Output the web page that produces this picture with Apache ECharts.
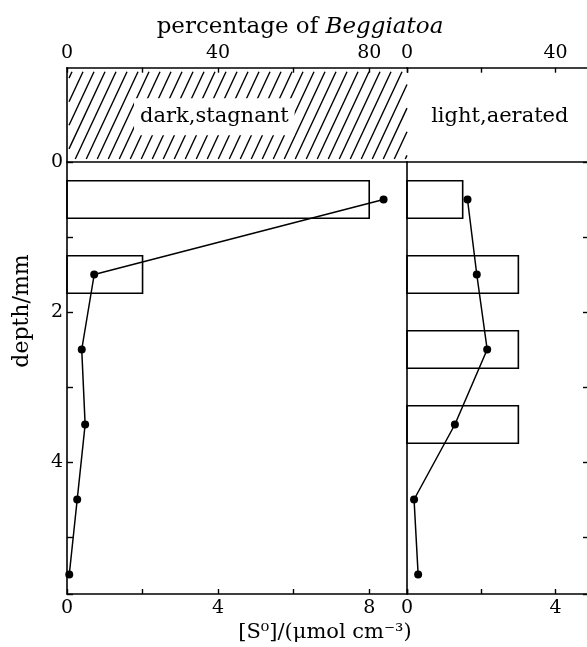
<!DOCTYPE html>
<html><head><meta charset="utf-8">
<script src="https://cdn.jsdelivr.net/npm/echarts@6/dist/echarts.min.js"></script>
<style>html,body{margin:0;padding:0;background:#fff}#c{width:587px;height:647px}</style>
</head><body><div id="c"></div>
<script>
// ---- data ----
var depthPoints = [0.5, 1.5, 2.5, 3.5, 4.5, 5.5];            // mm
var s0Dark  = [8.38, 0.72, 0.39, 0.48, 0.27, 0.06];          // umol cm-3
var s0Light = [1.63, 1.88, 2.16, 1.29, 0.19, 0.30];
var barTop    = [0.25, 1.25, 2.25, 3.25];                    // mm
var barBottom = [0.75, 1.75, 2.75, 3.75];
var pctDark  = [80, 20, 0, 0];                               // % Beggiatoa
var pctLight = [15, 30, 30, 30];
var regionLabels = ['dark,stagnant', 'light,aerated'];
var pctTickLabels = [0, 40, 80];
var s0TickLabels = [0, 4, 8];
var depthTickLabels = [0, 2, 4];

var FONT = 'DejaVu Serif';
var chart = echarts.init(document.getElementById('c'), null, {renderer: 'canvas'});

function pairs(xs, ys) { return xs.map(function (x, i) { return [x, ys[i]]; }); }
function barData(p) { return p.map(function (v, i) { return [barTop[i], barBottom[i], v]; }).filter(function (d) { return d[2] > 0; }); }

function renderBar(params, api) {
  var p0 = api.coord([0, api.value(0)]);
  var p1 = api.coord([api.value(2), api.value(1)]);
  return {type: 'rect', shape: {x: p0[0], y: p0[1], width: p1[0] - p0[0], height: p1[1] - p0[1]},
    style: {fill: 'none', stroke: '#000', lineWidth: 1.6}};
}

function renderHatch(params, api) {
  var a = api.coord([api.value(0), api.value(2)]);
  var b = api.coord([api.value(1), api.value(3)]);
  var L = a[0] + 2, R = b[0], T = a[1] + 4, B = b[1] - 3;
  var H = B - T, k = 1 / Math.tan(65 * Math.PI / 180), s = 11;
  var children = [];
  for (var c = L - H * k + 3; c < R; c += s) {
    var x0 = c, y0 = B, x1 = c + H * k, y1 = T;
    if (x0 < L) { y0 = B - (L - c) / k; x0 = L; }
    if (x1 > R) { y1 = B - (R - c) / k; x1 = R; }
    if (y0 - y1 < 1) continue;
    children.push({type: 'line', shape: {x1: x0, y1: y0, x2: x1, y2: y1}, style: {stroke: '#000', lineWidth: 1.4}});
  }
  var m = api.coord([api.value(4), api.value(5)]);
  children.push({type: 'text', x: m[0], y: m[1], style: {text: regionLabels[0], font: '21px "' + FONT + '"', fill: '#000',
    align: 'center', verticalAlign: 'middle', backgroundColor: '#fff', padding: [8, 6]}});
  return {type: 'group', children: children};
}
function renderLabel(params, api) {
  var m = api.coord([api.value(0), api.value(1)]);
  return {type: 'text', x: m[0], y: m[1], style: {text: regionLabels[1], font: '21px "' + FONT + '"', fill: '#000',
    align: 'center', verticalAlign: 'middle'}};
}

var axLine = {show: true, onZero: false, lineStyle: {color: '#000', width: 1.6}};
var noLine = {show: false, onZero: false};
var tickIn = {show: true, inside: true, length: 5, lineStyle: {color: '#000', width: 1.4}};
function lbl(list, margin) {
  return {show: true, margin: margin, color: '#000', fontFamily: FONT, fontSize: 19,
    formatter: function (v) { return list.indexOf(v) >= 0 ? String(v) : ''; }};
}

var top0 = 67.7, depth0 = 162, bot = 594;
var leftX = 67, divX = 407, rightEnd = 590;

function gridAt(l, t, w, h) {
  return {left: l, top: t, width: w, height: h, containLabel: false, outerBoundsMode: 'none'};
}

var option = {
  animation: false,
  backgroundColor: '#fff',
  grid: [
    gridAt(leftX, top0, divX - leftX, depth0 - top0),
    gridAt(divX, top0, rightEnd - divX, depth0 - top0),
    gridAt(leftX, depth0, divX - leftX, bot - depth0),
    gridAt(divX, depth0, rightEnd - divX, bot - depth0)
  ],
  xAxis: [
    {gridIndex: 0, type: 'value', position: 'top', min: 0, max: 90, interval: 20, axisLine: axLine,
      axisTick: tickIn, axisLabel: lbl(pctTickLabels, 5), splitLine: {show: false}},
    {gridIndex: 1, type: 'value', position: 'top', min: 0, max: 49.3, interval: 20, axisLine: axLine,
      axisTick: tickIn, axisLabel: lbl([0, 40], 5), splitLine: {show: false}},
    {gridIndex: 2, type: 'value', position: 'bottom', min: 0, max: 9, interval: 2, axisLine: axLine,
      axisTick: tickIn, axisLabel: lbl(s0TickLabels, 5), splitLine: {show: false}},
    {gridIndex: 2, type: 'value', position: 'top', min: 0, max: 90, axisLine: axLine,
      axisTick: {show: false}, axisLabel: {show: false}, splitLine: {show: false}},
    {gridIndex: 3, type: 'value', position: 'bottom', min: 0, max: 4.93, interval: 2, axisLine: axLine,
      axisTick: tickIn, axisLabel: lbl([0, 4], 5), splitLine: {show: false}},
    {gridIndex: 3, type: 'value', position: 'top', min: 0, max: 49.3, axisLine: axLine,
      axisTick: {show: false}, axisLabel: {show: false}, splitLine: {show: false}}
  ],
  yAxis: [
    {gridIndex: 0, type: 'value', inverse: true, min: -1.25, max: 0, axisLine: axLine,
      axisTick: {show: false}, axisLabel: {show: false}, splitLine: {show: false}},
    {gridIndex: 1, type: 'value', inverse: true, min: -1.25, max: 0, axisLine: noLine,
      axisTick: {show: false}, axisLabel: {show: false}, splitLine: {show: false}},
    {gridIndex: 2, type: 'value', inverse: true, min: 0, max: 5.76, interval: 1, position: 'left', axisLine: axLine,
      axisTick: {show: true, inside: true, length: 6, lineStyle: {color: '#000', width: 1.4}},
      axisLabel: lbl(depthTickLabels, 4), splitLine: {show: false}},
    {gridIndex: 3, type: 'value', inverse: true, min: 0, max: 5.76, position: 'left', axisLine: axLine,
      axisTick: {show: false}, axisLabel: {show: false}, splitLine: {show: false}},
    {gridIndex: 3, type: 'value', inverse: true, min: 0, max: 5.76, interval: 1, position: 'right', axisLine: axLine,
      axisTick: {show: true, inside: true, length: 7, lineStyle: {color: '#000', width: 1.4}},
      axisLabel: {show: false}, splitLine: {show: false}}
  ],
  graphic: [
    {type: 'text', x: 300, y: 27, style: {text: '{n|percentage of }{i|Beggiatoa}', align: 'center', verticalAlign: 'middle',
      rich: {n: {fontFamily: FONT, fontSize: 23, fill: '#000', color: '#000'}, i: {fontFamily: FONT, fontSize: 23, fontStyle: 'italic', fill: '#000', color: '#000'}}}},
    {type: 'text', x: 325, y: 633, style: {text: '[S\u2070]/(\u03bcmol cm\u207b\u00b3)', font: '21px "' + FONT + '"', fill: '#000', align: 'center', verticalAlign: 'middle'}},
    {type: 'text', x: 22, y: 311, rotation: Math.PI / 2, style: {text: 'depth/mm', font: '22px "' + FONT + '"', fill: '#000', align: 'center', verticalAlign: 'middle'}}
  ],
  series: [
    {type: 'custom', xAxisIndex: 0, yAxisIndex: 0, renderItem: renderHatch, data: [[0, 90, -1.25, 0, 39, -0.6]], silent: true},
    {type: 'custom', xAxisIndex: 1, yAxisIndex: 1, renderItem: renderLabel, data: [[25, -0.6]], silent: true},
    {type: 'custom', xAxisIndex: 3, yAxisIndex: 2, renderItem: renderBar, data: barData(pctDark), silent: true},
    {type: 'custom', xAxisIndex: 5, yAxisIndex: 3, renderItem: renderBar, data: barData(pctLight), silent: true},
    {type: 'line', xAxisIndex: 2, yAxisIndex: 2, data: pairs(s0Dark, depthPoints), symbol: 'circle', symbolSize: 8,
      lineStyle: {color: '#000', width: 1.5}, itemStyle: {color: '#000'}, silent: true},
    {type: 'line', xAxisIndex: 4, yAxisIndex: 3, data: pairs(s0Light, depthPoints), symbol: 'circle', symbolSize: 8,
      lineStyle: {color: '#000', width: 1.5}, itemStyle: {color: '#000'}, silent: true}
  ]
};
chart.setOption(option);
</script></body></html>
